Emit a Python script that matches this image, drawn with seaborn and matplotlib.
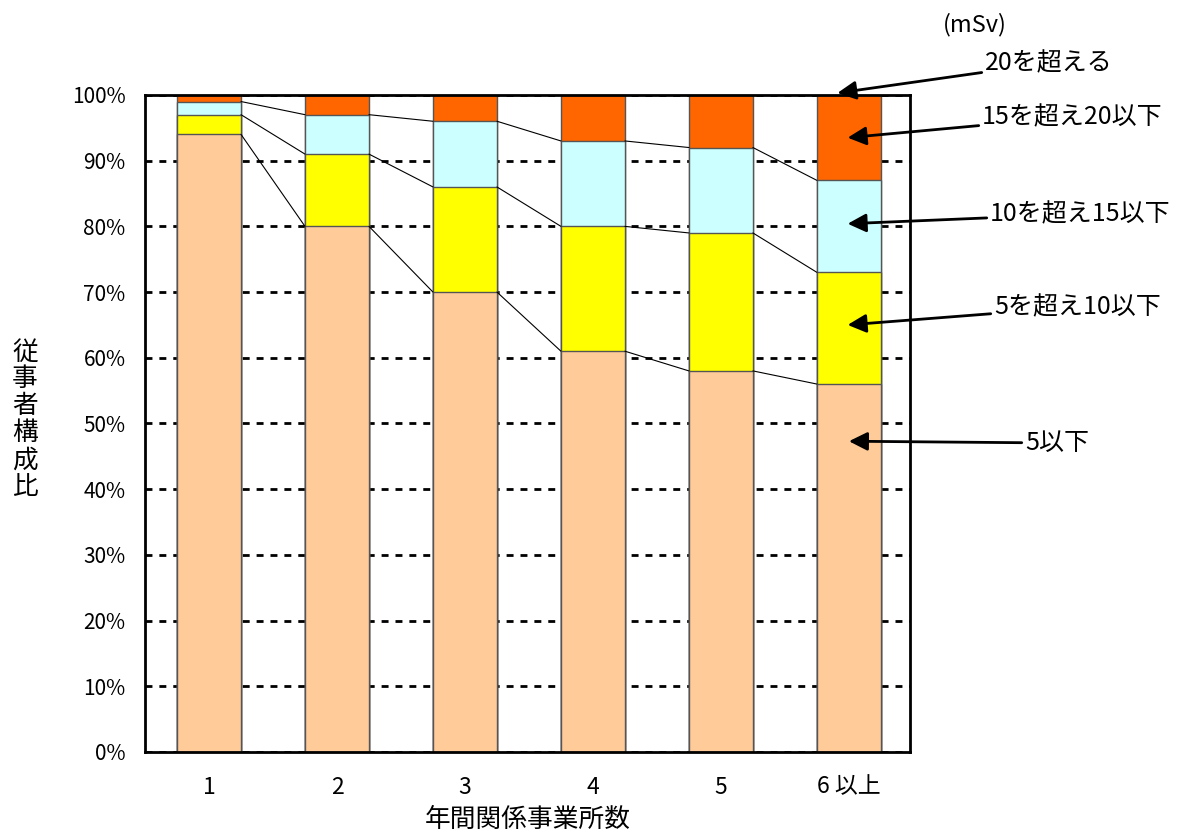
import numpy as np
import pandas as pd
import matplotlib
matplotlib.use("Agg")
import matplotlib.pyplot as plt
import seaborn as sns

# number of offices per year (x categories)
CATEGORIES = ["1", "2", "3", "4", "5", "6 以上"]

# share of workers per dose band (%), bottom to top
LE5 = [94, 80, 70, 61, 58, 56]
GT5_LE10 = [3, 11, 16, 19, 21, 17]
GT10_LE15 = [2, 6, 10, 13, 13, 14]
GT15_LE20 = [1, 3, 4, 7, 8, 13]
GT20 = [0, 0, 0, 0, 0, 0]

BAND_LABELS = ["5以下", "5を超え10以下", "10を超え15以下", "15を超え20以下", "20を超える"]
BAND_COLORS = ["#FFCC99", "#FFFF00", "#CCFFFF", "#FF6600", "#FF0000"]

sns.set_style("white")
plt.rcParams["font.family"] = ["Noto Sans CJK JP", "DejaVu Sans"]
plt.rcParams["text.color"] = "black"
plt.rcParams["axes.labelcolor"] = "black"
plt.rcParams["xtick.color"] = "black"
plt.rcParams["ytick.color"] = "black"

df = pd.DataFrame({"cat": CATEGORIES, BAND_LABELS[0]: LE5, BAND_LABELS[1]: GT5_LE10,
                   BAND_LABELS[2]: GT10_LE15, BAND_LABELS[3]: GT15_LE20, BAND_LABELS[4]: GT20})
cum = df[BAND_LABELS].cumsum(axis=1)

fig = plt.figure(figsize=(11.81, 8.36), dpi=100)
ax = fig.add_axes([0.1228, 0.1005, 0.6477, 0.7859])

# draw cumulative totals from top band down so each layer sits on the one below
for band, color in reversed(list(zip(BAND_LABELS, BAND_COLORS))):
    if df[band].sum() == 0:
        continue
    sns.barplot(x=df["cat"], y=cum[band], color=color, width=0.5, order=CATEGORIES,
                edgecolor="#555555", linewidth=1.0, saturation=1, ax=ax, zorder=2)

# thin lines joining band boundaries between neighbouring bars
for band in BAND_LABELS[:3]:
    vals = cum[band].values
    for i in range(len(CATEGORIES) - 1):
        ax.plot([i + 0.25, i + 0.75], [vals[i], vals[i + 1]], color="black", lw=0.8, zorder=3)

ax.set_xlim(-0.5, 5.477)
ax.set_ylim(0, 100)
ax.set_yticks(np.arange(0, 101, 10))
ax.set_yticklabels([f"{v}%" for v in range(0, 101, 10)])
ax.yaxis.grid(True, color="black", linestyle=(0, (2.5, 2.5)), lw=2)
ax.set_axisbelow(True)
for s in ax.spines.values():
    s.set_visible(True)
    s.set_color("black")
    s.set_linewidth(2)

ax.tick_params(axis="y", direction="in", length=4, width=1, pad=14, labelsize=15, colors="black")
ax.tick_params(axis="x", length=0, pad=17, labelsize=16.5, labelcolor="black")
ax.set_xticks(np.arange(0.5, 5, 1), minor=True)
ax.tick_params(axis="x", which="minor", direction="in", length=6, width=1, color="#555555")

ax.set_xlabel("年間関係事業所数", fontsize=18.5, labelpad=6)
ax.set_ylabel("")
fig.text(25 / 1181, 1 - 420 / 836, "\n".join("従事者構成比"), fontsize=18.5,
         ha="center", va="center", linespacing=1.05)

fig.text(975 / 1181, 1 - 25 / 836, "(mSv)", fontsize=17, ha="center", va="center")

arrow = dict(arrowstyle="-|>", mutation_scale=28, lw=2, color="black", shrinkA=0, shrinkB=0)
notes = [
    ("20を超える", (4.91, 100.3), (985, 63)),
    ("15を超え20以下", (4.99, 93.5), (982, 117)),
    ("10を超え15以下", (4.99, 80.4), (990, 214)),
    ("5を超え10以下", (4.99, 65.0), (994, 307)),
    ("5以下", (5.0, 47.3), (1025, 443)),
]
for text, tip, (px, py) in notes:
    ax.annotate(text, xy=tip, xycoords="data", xytext=(px, 836 - py), textcoords="figure pixels",
                fontsize=18, ha="left", va="center", arrowprops=arrow, annotation_clip=False)

fig.savefig("out.png", dpi=100)
